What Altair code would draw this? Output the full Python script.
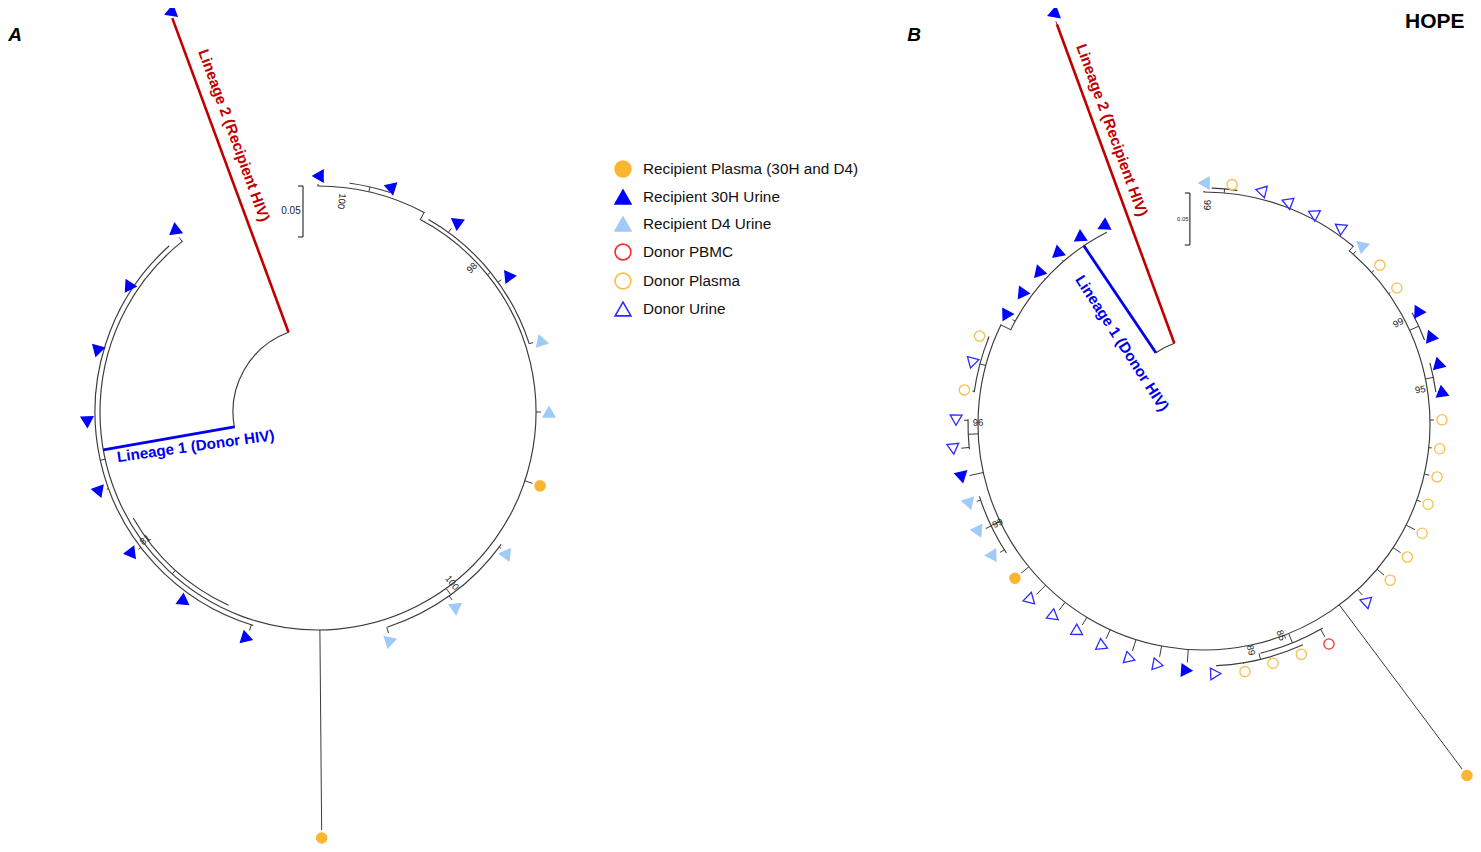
import altair as alt
import pandas as pd

# ---------------- categories ----------------
GROUP_CODES = ["RP", "R30", "RD4", "DPB", "DPL", "DU"]
GROUP_LABELS = ["Recipient Plasma (30H and D4)", "Recipient 30H Urine", "Recipient D4 Urine",
                "Donor PBMC", "Donor Plasma", "Donor Urine"]
GROUP_SHAPES = ["circle", "triangle-up", "triangle-up", "circle", "circle", "triangle-up"]
GROUP_FILLS = ["#FBB52F", "#0000FF", "#9FCBF6", "transparent", "transparent", "transparent"]
GROUP_STROKES = ["#FBB52F", "#0000FF", "#9FCBF6", "#FF2B2B", "#F8BF4C", "#2B2BFF"]

# ---------------- tree A (angles in degrees clockwise from 12 o'clock, radii in px) ----------------
A_TIP_ANGLE = [0, 17.7, 36, 54.2, 72.1, 90, 108.4, 126.7, 144.5, 162.3,
               179.5, 197.4, 215.2, 232.6, 249.9, 267.5, 285.4, 303.3, 321.5, 339.7]
A_TIP_RADIUS = [236, 236, 235, 234, 234, 231, 234, 236, 239, 240,
                426, 237, 232, 234, 233, 231, 229, 227, 231, 426]
A_TIP_NODE = [226, 231, 222, 222, 222, 218, 218, 226, 226, 226,
              218, 223, 223, 223, 223, 223, 223, 223, 218, 420]
A_TIP_GROUP = ["R30", "R30", "R30", "R30", "RD4", "RD4", "RP", "RD4", "RD4", "RD4",
               "RP", "R30", "R30", "R30", "R30", "R30", "R30", "R30", "R30", "R30"]

A_ARC_RADIUS = [85, 226, 218, 223, 213, 222, 226, 231]
A_ARC_START = [259.5, 0, 28, 197, 205, 30, 126, 8]
A_ARC_END = [339.7, 28, 321.5, 318, 240, 72, 162, 18]

A_BRANCH_ANGLE = [260, 339.7, 28, 51, 144, 257.5, 222, 13]
A_BRANCH_FROM = [85, 85, 218, 218, 218, 218, 213, 226]
A_BRANCH_TO = [218, 420, 226, 222, 226, 223, 218, 231]
A_BRANCH_KIND = ["L1", "L2", "n", "n", "n", "n", "n", "n"]

A_BOOT_ANGLE = [6.4, 46.9, 233.5, 141.9]
A_BOOT_RADIUS = [212, 211, 215, 217]
A_BOOT_TEXT = ["100", "98", "81", "100"]

# ---------------- tree B ----------------
B_TIP_ANGLE = [0, 6.7, 13.7, 20.5, 27.4, 34.6, 41.3, 47.9, 54.8, 62,
               68.7, 75.4, 82.1, 89, 96, 102.8, 109.7, 116.6, 123.2, 130,
               137.2, 143.2, 150.4, 157.1, 163.9, 170.6, 177.3, 184, 190.8, 197.5,
               204.5, 211.2, 217.9, 224.5, 230.8, 237.8, 244.4, 251.2, 257.6, 264.3,
               270.9, 278.1, 284.7, 291.4, 298.6, 305.4, 312.3, 319.2, 326.1, 333,
               339.8]
B_TIP_RADIUS = [241, 241, 240, 237, 237, 239, 238, 237, 236, 242,
                243, 242, 240, 238, 237, 239, 238, 244, 243, 243,
                241, 439, 253, 250, 249, 251, 250, 247, 245, 246,
                244, 243, 244, 247, 244, 249, 250, 248, 248, 252,
                248, 242, 240, 241, 226, 224, 224, 225, 224, 222,
                437]
B_TIP_NODE = [232, 236, 232, 232, 232, 232, 226, 226, 226, 236,
              236, 234, 234, 226, 226, 226, 226, 226, 226, 226,
              226, 226, 236, 242, 242, 242, 242, 226, 226, 226,
              226, 226, 226, 226, 226, 236, 236, 236, 226, 236,
              236, 232, 232, 232, 215, 215, 215, 215, 215, 215,
              426]
B_TIP_GROUP = ["RD4", "DPL", "DU", "DU", "DU", "DU", "RD4", "DPL", "DPL", "R30",
               "R30", "R30", "R30", "DPL", "DPL", "DPL", "DPL", "DPL", "DPL", "DPL",
               "DU", "RP", "DPB", "DPL", "DPL", "DPL", "DU", "R30", "DU", "DU",
               "DU", "DU", "DU", "DU", "RP", "RD4", "RD4", "RD4", "R30", "DU",
               "DU", "DPL", "DU", "DPL", "R30", "R30", "R30", "R30", "R30", "R30",
               "R30"]

B_ARC_RADIUS = [86, 232, 226, 215, 236, 236, 234, 236, 242, 236, 236, 232]
B_ARC_START = [326, 0, 40, 296, 2, 62, 75, 150, 156, 237, 264, 278]
B_ARC_END = [339.8, 40, 296, 333, 8, 69, 82, 166, 177, 252, 271, 292]

B_BRANCH_ANGLE = [326, 339.8, 40, 296, 5, 65.5, 78.5, 158, 166.5, 244.5, 267.5, 285]
B_BRANCH_FROM = [86, 86, 226, 215, 232, 226, 226, 226, 236, 226, 226, 226]
B_BRANCH_TO = [215, 426, 232, 226, 236, 236, 234, 236, 242, 236, 236, 232]
B_BRANCH_KIND = ["L1", "L2", "n", "n", "n", "n", "n", "n", "n", "n", "n", "n"]

B_BOOT_ANGLE = [0.8, 62.5, 81, 270.3, 244.3, 160, 168.3]
B_BOOT_RADIUS = [219, 219, 219, 226, 229, 225, 231]
B_BOOT_TEXT = ["99", "99", "95", "96", "99", "85", "89"]

# lineage labels
LINEAGE_TREE = ["A", "A", "B", "B"]
LINEAGE_TEXT = ["Lineage 2 (Recipient HIV)", "Lineage 1 (Donor HIV)",
                "Lineage 2 (Recipient HIV)", "Lineage 1 (Donor HIV)"]
LINEAGE_KIND = ["L2", "L1", "L2", "L1"]

# scale bars (0.05 substitutions per site)
SCALE_TREE = ["A", "B"]
SCALE_TEXT = ["0.05", "0.05"]

# ---------------- layout ----------------
CENTERS = {"A": (318, 412), "B": (1204, 424)}
LINEAGE_POS = [(343.1, 289, 70), (254.4, 127, 352), (342.6, 308, 70), (314.6, 115, 57)]
SCALE_POS = {"A": (356.2, 226.5, 51, 10, -12), "B": (356.5, 231.4, 52, 6, -7)}
PLOT_W, PLOT_H = 1465, 836
FONT = "Liberation Sans"
LINE_COL = {"L1": "#0000EE", "L2": "#C00000", "n": "#3a3a3a"}
LINE_W = {"L1": 2.8, "L2": 2.6, "n": 1.0}

XS = alt.Scale(domain=[8, 8 + PLOT_W], nice=False, zero=False)
YS = alt.Scale(domain=[8, 8 + PLOT_H], nice=False, zero=False, reverse=True)


def frame(tree, **cols):
    df = pd.DataFrame(cols)
    df["tree"] = tree
    df["cx"] = CENTERS[tree][0]
    df["cy"] = CENTERS[tree][1]
    return df


def px(r, t):
    return f"datum.cx + ({r}) * sin(({t}) * PI / 180)"


def py(r, t):
    return f"datum.cy - ({r}) * cos(({t}) * PI / 180)"


code2label = dict(zip(GROUP_CODES, GROUP_LABELS))
code2shape = dict(zip(GROUP_CODES, GROUP_SHAPES))

tips = pd.concat([
    frame("A", theta=A_TIP_ANGLE, r=A_TIP_RADIUS, node=A_TIP_NODE, grp=A_TIP_GROUP),
    frame("B", theta=B_TIP_ANGLE, r=B_TIP_RADIUS, node=B_TIP_NODE, grp=B_TIP_GROUP),
], ignore_index=True)
tips["label"] = tips["grp"].map(code2label)
tips["shape"] = tips["grp"].map(code2shape)

arcs = pd.concat([
    frame("A", r=A_ARC_RADIUS, a0=A_ARC_START, a1=A_ARC_END),
    frame("B", r=B_ARC_RADIUS, a0=B_ARC_START, a1=B_ARC_END),
], ignore_index=True)
arcs["col"] = LINE_COL["n"]

branches = pd.concat([
    frame("A", theta=A_BRANCH_ANGLE, r0=A_BRANCH_FROM, r1=A_BRANCH_TO, kind=A_BRANCH_KIND),
    frame("B", theta=B_BRANCH_ANGLE, r0=B_BRANCH_FROM, r1=B_BRANCH_TO, kind=B_BRANCH_KIND),
], ignore_index=True)
branches["col"] = branches["kind"].map(LINE_COL)
branches["w"] = branches["kind"].map(LINE_W)

boots = pd.concat([
    frame("A", theta=A_BOOT_ANGLE, r=A_BOOT_RADIUS, text=A_BOOT_TEXT),
    frame("B", theta=B_BOOT_ANGLE, r=B_BOOT_RADIUS, text=B_BOOT_TEXT),
], ignore_index=True)

lin = pd.DataFrame({"tree": LINEAGE_TREE, "text": LINEAGE_TEXT, "kind": LINEAGE_KIND})
lin["cx"] = lin["tree"].map(lambda t: CENTERS[t][0])
lin["cy"] = lin["tree"].map(lambda t: CENTERS[t][1])
lin["theta"] = [p[0] for p in LINEAGE_POS]
lin["r"] = [p[1] for p in LINEAGE_POS]
lin["rot"] = [p[2] for p in LINEAGE_POS]
lin["col"] = lin["kind"].map(LINE_COL)

sb_rows = []
for t, txt in zip(SCALE_TREE, SCALE_TEXT):
    th, rr, ln, fs, lo = SCALE_POS[t]
    for seg, dx0, dy0, dx1, dy1 in [("v", 0, 0, 0, ln), ("t", -5, 0, 0, 0), ("b", -5, ln, 0, ln)]:
        sb_rows.append(dict(tree=t, cx=CENTERS[t][0], cy=CENTERS[t][1], theta=th, r=rr,
                            dx0=dx0, dy0=dy0, dx1=dx1, dy1=dy1))
sbars = pd.DataFrame(sb_rows)
sblab = pd.DataFrame([dict(tree=t, text=txt, cx=CENTERS[t][0], cy=CENTERS[t][1],
                           theta=SCALE_POS[t][0], r=SCALE_POS[t][1], half=SCALE_POS[t][2] / 2,
                           fs=SCALE_POS[t][3], lo=SCALE_POS[t][4])
                      for t, txt in zip(SCALE_TREE, SCALE_TEXT)])

# ---------------- layers ----------------
arc_layer = alt.Chart(arcs).transform_calculate(
    t0="datum.a0 * PI / 180", t1="datum.a1 * PI / 180", r2="datum.r - 0.01"
).mark_arc(filled=False).encode(
    x=alt.X("cx:Q", scale=XS, axis=None),
    y=alt.Y("cy:Q", scale=YS, axis=None),
    theta=alt.Theta("t0:Q", scale=None, stack=None),
    theta2=alt.Theta2("t1:Q"),
    radius=alt.Radius("r:Q", scale=None),
    radius2=alt.Radius2("r2:Q"),
    stroke=alt.Stroke("col:N", scale=None),
    strokeWidth=alt.value(1.15),
)

stub_layer = alt.Chart(tips).transform_calculate(
    r1="datum.r - 8"
).transform_filter("datum.r1 > datum.node").transform_calculate(
    x=px("datum.node", "datum.theta"), y=py("datum.node", "datum.theta"),
    x2=px("datum.r1", "datum.theta"), y2=py("datum.r1", "datum.theta"),
).mark_rule(color="#3a3a3a", strokeWidth=1.0).encode(
    x=alt.X("x:Q", scale=XS, axis=None), y=alt.Y("y:Q", scale=YS, axis=None),
    x2="x2:Q", y2="y2:Q",
)

branch_layer = alt.Chart(branches).transform_calculate(
    x=px("datum.r0", "datum.theta"), y=py("datum.r0", "datum.theta"),
    x2=px("datum.r1", "datum.theta"), y2=py("datum.r1", "datum.theta"),
).mark_rule().encode(
    x=alt.X("x:Q", scale=XS, axis=None), y=alt.Y("y:Q", scale=YS, axis=None),
    x2="x2:Q", y2="y2:Q",
    stroke=alt.Stroke("col:N", scale=None),
    strokeWidth=alt.StrokeWidth("w:Q", scale=None),
)

sbar_layer = alt.Chart(sbars).transform_calculate(
    ax=px("datum.r", "datum.theta"), ay=py("datum.r", "datum.theta"),
).transform_calculate(
    x="datum.ax + datum.dx0", y="datum.ay + datum.dy0",
    x2="datum.ax + datum.dx1", y2="datum.ay + datum.dy1",
).mark_rule(color="#333333", strokeWidth=1.2).encode(
    x=alt.X("x:Q", scale=XS, axis=None), y=alt.Y("y:Q", scale=YS, axis=None),
    x2="x2:Q", y2="y2:Q",
)

sblab_layer = alt.Chart(sblab).transform_calculate(
    x=px("datum.r", "datum.theta") + " + datum.lo",
    y=py("datum.r", "datum.theta") + " + datum.half",
).mark_text(font=FONT, color="#222222", align="center", baseline="middle").encode(
    x=alt.X("x:Q", scale=XS, axis=None), y=alt.Y("y:Q", scale=YS, axis=None),
    text="text:N", size=alt.Size("fs:Q", scale=None),
)

leg = alt.Legend(title=None, orient="none", legendX=606, legendY=152, symbolSize=250,
                 symbolStrokeWidth=1.6, labelFontSize=15.3, labelFont=FONT, labelColor="#111111",
                 rowPadding=5, labelOffset=11, padding=0, labelLimit=400)

tip_layer = alt.Chart(tips).transform_calculate(
    x=px("datum.r", "datum.theta"), y=py("datum.r", "datum.theta"),
    rot="datum.shape == 'circle' ? 0 : (datum.theta + 270) % 360",
    sz="datum.shape == 'circle' ? 105 : 140",
).mark_point(opacity=1, strokeWidth=1.3).encode(
    x=alt.X("x:Q", scale=XS, axis=None), y=alt.Y("y:Q", scale=YS, axis=None),
    shape=alt.Shape("label:N", scale=alt.Scale(domain=GROUP_LABELS, range=GROUP_SHAPES), legend=leg),
    fill=alt.Fill("label:N", scale=alt.Scale(domain=GROUP_LABELS, range=GROUP_FILLS), legend=leg),
    stroke=alt.Stroke("label:N", scale=alt.Scale(domain=GROUP_LABELS, range=GROUP_STROKES), legend=leg),
    angle=alt.Angle("rot:Q", scale=None),
    size=alt.Size("sz:Q", scale=None),
)

boot_layer = alt.Chart(boots).transform_calculate(
    x=px("datum.r", "datum.theta"), y=py("datum.r", "datum.theta"),
    rot0="datum.theta < 20 ? datum.theta + 90 : (datum.theta < 180 ? datum.theta - 90 : datum.theta - 270)",
).transform_calculate(rot="(datum.rot0 + 360) % 360").mark_text(
    font=FONT, fontSize=9.5, color="#222222", align="center", baseline="middle"
).encode(
    x=alt.X("x:Q", scale=XS, axis=None), y=alt.Y("y:Q", scale=YS, axis=None),
    text="text:N", angle=alt.Angle("rot:Q", scale=None),
)

lin_layer = alt.Chart(lin).transform_calculate(
    x=px("datum.r", "datum.theta"), y=py("datum.r", "datum.theta"),
).mark_text(font=FONT, fontSize=15.2, fontWeight="bold", align="center", baseline="middle").encode(
    x=alt.X("x:Q", scale=XS, axis=None), y=alt.Y("y:Q", scale=YS, axis=None),
    text="text:N", angle=alt.Angle("rot:Q", scale=None),
    color=alt.Color("col:N", scale=None),
)

letter_a = alt.Chart().mark_text(text="A", font=FONT, fontSize=19, fontWeight="bold",
                                 fontStyle="italic", align="center", baseline="middle",
                                 color="#000000").encode(x=alt.value(7), y=alt.value(27))
letter_b = alt.Chart().mark_text(text="B", font=FONT, fontSize=19, fontWeight="bold",
                                 fontStyle="italic", align="center", baseline="middle",
                                 color="#000000").encode(x=alt.value(906), y=alt.value(27))
hope = alt.Chart().mark_text(text="HOPE", font=FONT, fontSize=21, fontWeight="bold",
                             align="left", baseline="top",
                             color="#000000").encode(x=alt.value(1397), y=alt.value(3))

chart = alt.layer(
    arc_layer, stub_layer, branch_layer, sbar_layer, sblab_layer,
    tip_layer, boot_layer, lin_layer, letter_a, letter_b, hope,
).properties(
    width=PLOT_W, height=PLOT_H,
    autosize=alt.AutoSizeParams(type="none"), padding=0,
).configure_view(strokeWidth=0)

chart.save("out.html", embed_options={"renderer": "svg", "actions": False})
